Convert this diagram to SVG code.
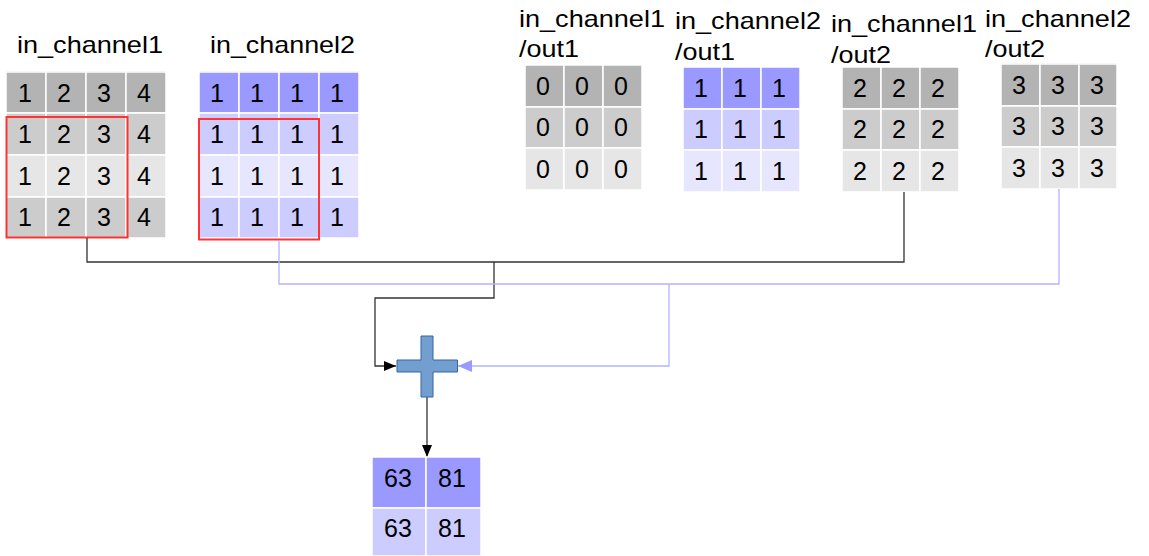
<svg xmlns="http://www.w3.org/2000/svg" width="1149" height="556" viewBox="0 0 1149 556">
<style>
text{font-family:"Liberation Sans",Arial,sans-serif;fill:#000}
.lbl{font-size:24px}
.d{font-size:25px;text-anchor:middle}
.c{stroke:#fff;stroke-width:1.5}
.g1{fill:#b3b3b3}.g2{fill:#cccccc}.g3{fill:#e6e6e6}
.b1{fill:#9999ff}.b2{fill:#ccccff}.b3{fill:#e6e6ff}
.red{fill:none;stroke:#ff3333;stroke-width:2}
.kl{fill:none;stroke:#333;stroke-width:1.3}
.bl{fill:none;stroke:#b3b3ff;stroke-width:1.3}
</style>
<defs>
<marker id="ak" markerWidth="12" markerHeight="10" refX="12" refY="5" orient="auto" markerUnits="userSpaceOnUse"><path d="M0,0 L12,5 L0,10 Z" fill="#000"/></marker>
<marker id="ab" markerWidth="14" markerHeight="12" refX="14" refY="6" orient="auto" markerUnits="userSpaceOnUse"><path d="M0,0 L14,6 L0,12 Z" fill="#9999ff"/></marker>
</defs>

<g id="in_channel1">
<text class="lbl" x="17" y="53" textLength="146" lengthAdjust="spacingAndGlyphs">in_channel1</text>
<line x1="6" y1="71.5" x2="166" y2="71.5" stroke="#ddd"/>
<g class="c">
<rect class="g1" x="6" y="72" width="40" height="41"/><rect class="g1" x="46" y="72" width="40" height="41"/><rect class="g1" x="86" y="72" width="40" height="41"/><rect class="g1" x="126" y="72" width="40" height="41"/>
<rect class="g2" x="6" y="113" width="40" height="42"/><rect class="g2" x="46" y="113" width="40" height="42"/><rect class="g2" x="86" y="113" width="40" height="42"/><rect class="g2" x="126" y="113" width="40" height="42"/>
<rect class="g3" x="6" y="155" width="40" height="42"/><rect class="g3" x="46" y="155" width="40" height="42"/><rect class="g3" x="86" y="155" width="40" height="42"/><rect class="g3" x="126" y="155" width="40" height="42"/>
<rect class="g2" x="6" y="197" width="40" height="41"/><rect class="g2" x="46" y="197" width="40" height="41"/><rect class="g2" x="86" y="197" width="40" height="41"/><rect class="g2" x="126" y="197" width="40" height="41"/>
</g>
<g class="d">
<text x="25" y="102">1</text><text x="64" y="102">2</text><text x="104" y="102">3</text><text x="144" y="102">4</text>
<text x="25" y="143">1</text><text x="64" y="143">2</text><text x="104" y="143">3</text><text x="144" y="143">4</text>
<text x="25" y="185">1</text><text x="64" y="185">2</text><text x="104" y="185">3</text><text x="144" y="185">4</text>
<text x="25" y="226">1</text><text x="64" y="226">2</text><text x="104" y="226">3</text><text x="144" y="226">4</text>
</g>
<rect class="red" x="6.5" y="117" width="121" height="120.5"/>
</g>

<g id="in_channel2">
<text class="lbl" x="210" y="53" textLength="145" lengthAdjust="spacingAndGlyphs">in_channel2</text>
<line x1="199" y1="71.5" x2="359" y2="71.5" stroke="#ddd"/>
<g class="c">
<rect class="b1" x="199" y="72" width="40" height="41"/><rect class="b1" x="239" y="72" width="40" height="41"/><rect class="b1" x="279" y="72" width="40" height="41"/><rect class="b1" x="319" y="72" width="40" height="41"/>
<rect class="b2" x="199" y="113" width="40" height="42"/><rect class="b2" x="239" y="113" width="40" height="42"/><rect class="b2" x="279" y="113" width="40" height="42"/><rect class="b2" x="319" y="113" width="40" height="42"/>
<rect class="b3" x="199" y="155" width="40" height="42"/><rect class="b3" x="239" y="155" width="40" height="42"/><rect class="b3" x="279" y="155" width="40" height="42"/><rect class="b3" x="319" y="155" width="40" height="42"/>
<rect class="b2" x="199" y="197" width="40" height="41"/><rect class="b2" x="239" y="197" width="40" height="41"/><rect class="b2" x="279" y="197" width="40" height="41"/><rect class="b2" x="319" y="197" width="40" height="41"/>
</g>
<g class="d">
<text x="217" y="102">1</text><text x="257" y="102">1</text><text x="297" y="102">1</text><text x="337" y="102">1</text>
<text x="217" y="143">1</text><text x="257" y="143">1</text><text x="297" y="143">1</text><text x="337" y="143">1</text>
<text x="217" y="185">1</text><text x="257" y="185">1</text><text x="297" y="185">1</text><text x="337" y="185">1</text>
<text x="217" y="226">1</text><text x="257" y="226">1</text><text x="297" y="226">1</text><text x="337" y="226">1</text>
</g>
<rect class="red" x="199" y="119" width="120" height="120.5"/>
</g>

<g id="ch1_out1">
<text class="lbl" x="519" y="27" textLength="146" lengthAdjust="spacingAndGlyphs">in_channel1</text>
<text class="lbl" x="519" y="57" textLength="60" lengthAdjust="spacingAndGlyphs">/out1</text>
<g class="c">
<rect class="g1" x="525" y="65" width="39" height="42"/><rect class="g1" x="564" y="65" width="39" height="42"/><rect class="g1" x="603" y="65" width="39" height="42"/>
<rect class="g2" x="525" y="107" width="39" height="41"/><rect class="g2" x="564" y="107" width="39" height="41"/><rect class="g2" x="603" y="107" width="39" height="41"/>
<rect class="g3" x="525" y="148" width="39" height="42"/><rect class="g3" x="564" y="148" width="39" height="42"/><rect class="g3" x="603" y="148" width="39" height="42"/>
</g>
<g class="d">
<text x="543" y="95">0</text><text x="582" y="95">0</text><text x="621" y="95">0</text>
<text x="543" y="136">0</text><text x="582" y="136">0</text><text x="621" y="136">0</text>
<text x="543" y="178">0</text><text x="582" y="178">0</text><text x="621" y="178">0</text>
</g>
</g>

<g id="ch2_out1">
<text class="lbl" x="675" y="29" textLength="146" lengthAdjust="spacingAndGlyphs">in_channel2</text>
<text class="lbl" x="675" y="60" textLength="60" lengthAdjust="spacingAndGlyphs">/out1</text>
<g class="c">
<rect class="b1" x="683" y="67" width="39" height="42"/><rect class="b1" x="722" y="67" width="39" height="42"/><rect class="b1" x="761" y="67" width="39" height="42"/>
<rect class="b2" x="683" y="109" width="39" height="41"/><rect class="b2" x="722" y="109" width="39" height="41"/><rect class="b2" x="761" y="109" width="39" height="41"/>
<rect class="b3" x="683" y="150" width="39" height="42"/><rect class="b3" x="722" y="150" width="39" height="42"/><rect class="b3" x="761" y="150" width="39" height="42"/>
</g>
<g class="d">
<text x="701" y="97">1</text><text x="740" y="97">1</text><text x="779" y="97">1</text>
<text x="701" y="138">1</text><text x="740" y="138">1</text><text x="779" y="138">1</text>
<text x="701" y="180">1</text><text x="740" y="180">1</text><text x="779" y="180">1</text>
</g>
</g>

<g id="ch1_out2">
<text class="lbl" x="831" y="32" textLength="146" lengthAdjust="spacingAndGlyphs">in_channel1</text>
<text class="lbl" x="831" y="63" textLength="60" lengthAdjust="spacingAndGlyphs">/out2</text>
<g class="c">
<rect class="g1" x="842" y="67" width="39" height="42"/><rect class="g1" x="881" y="67" width="39" height="42"/><rect class="g1" x="920" y="67" width="39" height="42"/>
<rect class="g2" x="842" y="109" width="39" height="41"/><rect class="g2" x="881" y="109" width="39" height="41"/><rect class="g2" x="920" y="109" width="39" height="41"/>
<rect class="g3" x="842" y="150" width="39" height="42"/><rect class="g3" x="881" y="150" width="39" height="42"/><rect class="g3" x="920" y="150" width="39" height="42"/>
</g>
<g class="d">
<text x="860" y="97">2</text><text x="899" y="97">2</text><text x="938" y="97">2</text>
<text x="860" y="138">2</text><text x="899" y="138">2</text><text x="938" y="138">2</text>
<text x="860" y="180">2</text><text x="899" y="180">2</text><text x="938" y="180">2</text>
</g>
</g>

<g id="ch2_out2">
<text class="lbl" x="985" y="27" textLength="146" lengthAdjust="spacingAndGlyphs">in_channel2</text>
<text class="lbl" x="985" y="57" textLength="60" lengthAdjust="spacingAndGlyphs">/out2</text>
<line x1="1001" y1="63.5" x2="1117" y2="63.5" stroke="#ddd"/>
<g class="c">
<rect class="g1" x="1001" y="64" width="39" height="42"/><rect class="g1" x="1040" y="64" width="39" height="42"/><rect class="g1" x="1079" y="64" width="38" height="42"/>
<rect class="g2" x="1001" y="106" width="39" height="41"/><rect class="g2" x="1040" y="106" width="39" height="41"/><rect class="g2" x="1079" y="106" width="38" height="41"/>
<rect class="g3" x="1001" y="147" width="39" height="42"/><rect class="g3" x="1040" y="147" width="39" height="42"/><rect class="g3" x="1079" y="147" width="38" height="42"/>
</g>
<g class="d">
<text x="1019" y="94">3</text><text x="1058" y="94">3</text><text x="1097" y="94">3</text>
<text x="1019" y="135">3</text><text x="1058" y="135">3</text><text x="1097" y="135">3</text>
<text x="1019" y="177">3</text><text x="1058" y="177">3</text><text x="1097" y="177">3</text>
</g>
</g>

<g id="connectors">
<path class="kl" d="M87,238 V262 H904 V192"/>
<path class="kl" d="M494,262 V298 H375 V366 H396" marker-end="url(#ak)"/>
<path class="bl" d="M279,240 V284 H1059 V189"/>
<path class="bl" d="M669,284 V366 H458" marker-end="url(#ab)"/>
<path class="kl" d="M427,397 V457" marker-end="url(#ak)"/>
</g>

<g id="plus">
<path d="M421,336 H433 V360 H457.5 V372 H433 V397 H421 V372 H397 V360 H421 Z" fill="#729fcf" stroke="#3465a4" stroke-width="1"/>
</g>

<g id="result">
<g class="c">
<rect class="b1" x="372" y="457" width="54" height="51"/><rect class="b1" x="426" y="457" width="55" height="51"/>
<rect class="b2" x="372" y="508" width="54" height="48"/><rect class="b2" x="426" y="508" width="55" height="48"/>
</g>
<g class="d">
<text x="398" y="487">63</text><text x="452" y="487">81</text>
<text x="398" y="537">63</text><text x="452" y="537">81</text>
</g>
</g>
</svg>
